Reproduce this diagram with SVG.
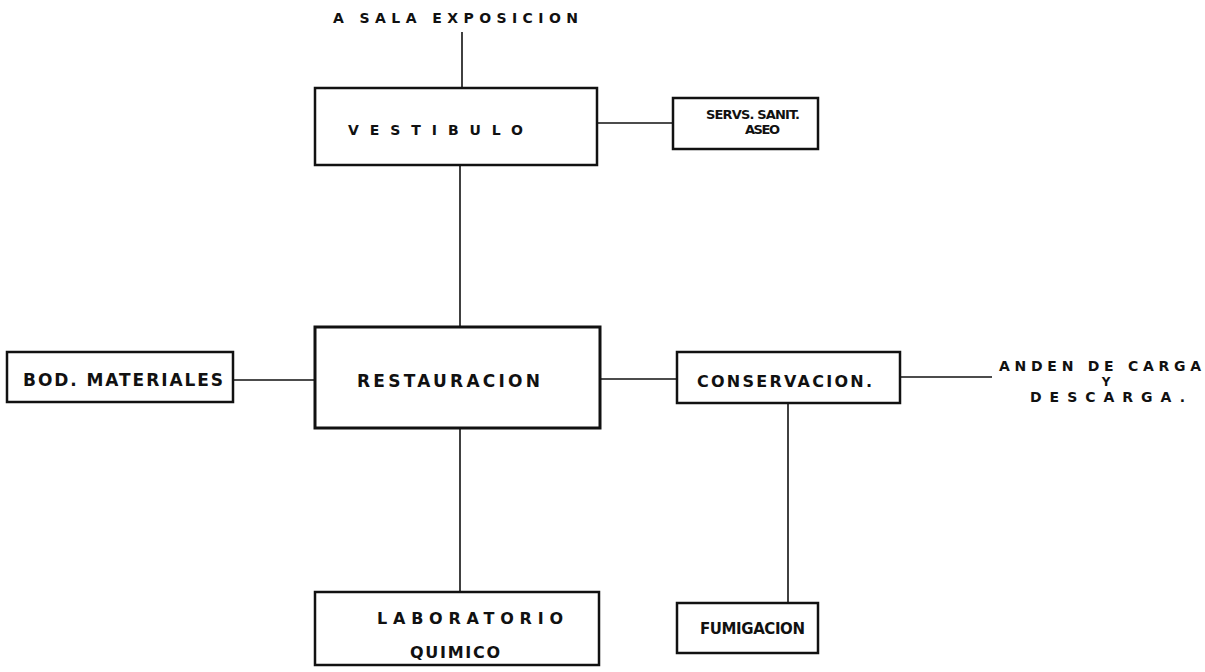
<svg xmlns="http://www.w3.org/2000/svg" width="1205" height="672" viewBox="0 0 1205 672">
<style>
.box{fill:#fff;stroke:#111;stroke-width:2.5}
.ln{stroke:#111;stroke-width:1.6;fill:none}
text{font-family:"DejaVu Sans","Liberation Sans",Arial,sans-serif;font-weight:bold;fill:#111}
.t12{font-size:12px}
.t13{font-size:13px}
.t14{font-size:14px}
.t15{font-size:15px}
.t16{font-size:16px}
.t17{font-size:17px}
</style>
<rect width="1205" height="672" fill="#fff"/>
<g id="connectors">
<line class="ln" x1="462" y1="32" x2="462" y2="88"/>
<line class="ln" x1="460" y1="165" x2="460" y2="327"/>
<line class="ln" x1="597" y1="123" x2="673" y2="123"/>
<line class="ln" x1="233" y1="380" x2="315" y2="380"/>
<line class="ln" x1="600" y1="379" x2="677" y2="379"/>
<line class="ln" x1="900" y1="377" x2="992" y2="377"/>
<line class="ln" x1="460" y1="428" x2="460" y2="592"/>
<line class="ln" x1="788" y1="403" x2="788" y2="603"/>
</g>
<g id="sala-exposicion">
<text class="t14" x="333" y="23" textLength="245" lengthAdjust="spacing">A SALA EXPOSICION</text>
</g>
<g id="vestibulo">
<rect class="box" x="315" y="88" width="282" height="77"/>
<text class="t14" x="348" y="135" textLength="175" lengthAdjust="spacing">VESTIBULO</text>
</g>
<g id="servs-sanit">
<rect class="box" x="673" y="98" width="145" height="51"/>
<text class="t13" x="706" y="119" textLength="94" lengthAdjust="spacing">SERVS. SANIT.</text>
<text class="t13" x="745" y="134" textLength="35" lengthAdjust="spacing">ASEO</text>
</g>
<g id="bod-materiales">
<rect class="box" x="7" y="352" width="226" height="50"/>
<text class="t17" x="23" y="386" textLength="200" lengthAdjust="spacing">BOD. MATERIALES</text>
</g>
<g id="restauracion">
<rect class="box" x="315" y="327" width="285" height="101" style="stroke-width:3"/>
<text class="t17" x="357" y="387" textLength="183" lengthAdjust="spacing">RESTAURACION</text>
</g>
<g id="conservacion">
<rect class="box" x="677" y="352" width="223" height="51"/>
<text class="t16" x="697" y="387" textLength="175" lengthAdjust="spacing">CONSERVACION.</text>
</g>
<g id="anden">
<text class="t14" x="999" y="371" textLength="202" lengthAdjust="spacing">ANDEN DE CARGA</text>
<text class="t12" x="1106" y="386" text-anchor="middle">Y</text>
<text class="t14" x="1030" y="402" textLength="155" lengthAdjust="spacing">DESCARGA.</text>
</g>
<g id="laboratorio">
<rect class="box" x="315" y="592" width="284" height="73"/>
<text class="t16" x="377" y="624" textLength="186" lengthAdjust="spacing">LABORATORIO</text>
<text class="t16" x="410" y="658" textLength="90" lengthAdjust="spacing">QUIMICO</text>
</g>
<g id="fumigacion">
<rect class="box" x="677" y="603" width="141" height="50"/>
<text class="t15" x="700" y="634" textLength="105" lengthAdjust="spacing">FUMIGACION</text>
</g>
</svg>
